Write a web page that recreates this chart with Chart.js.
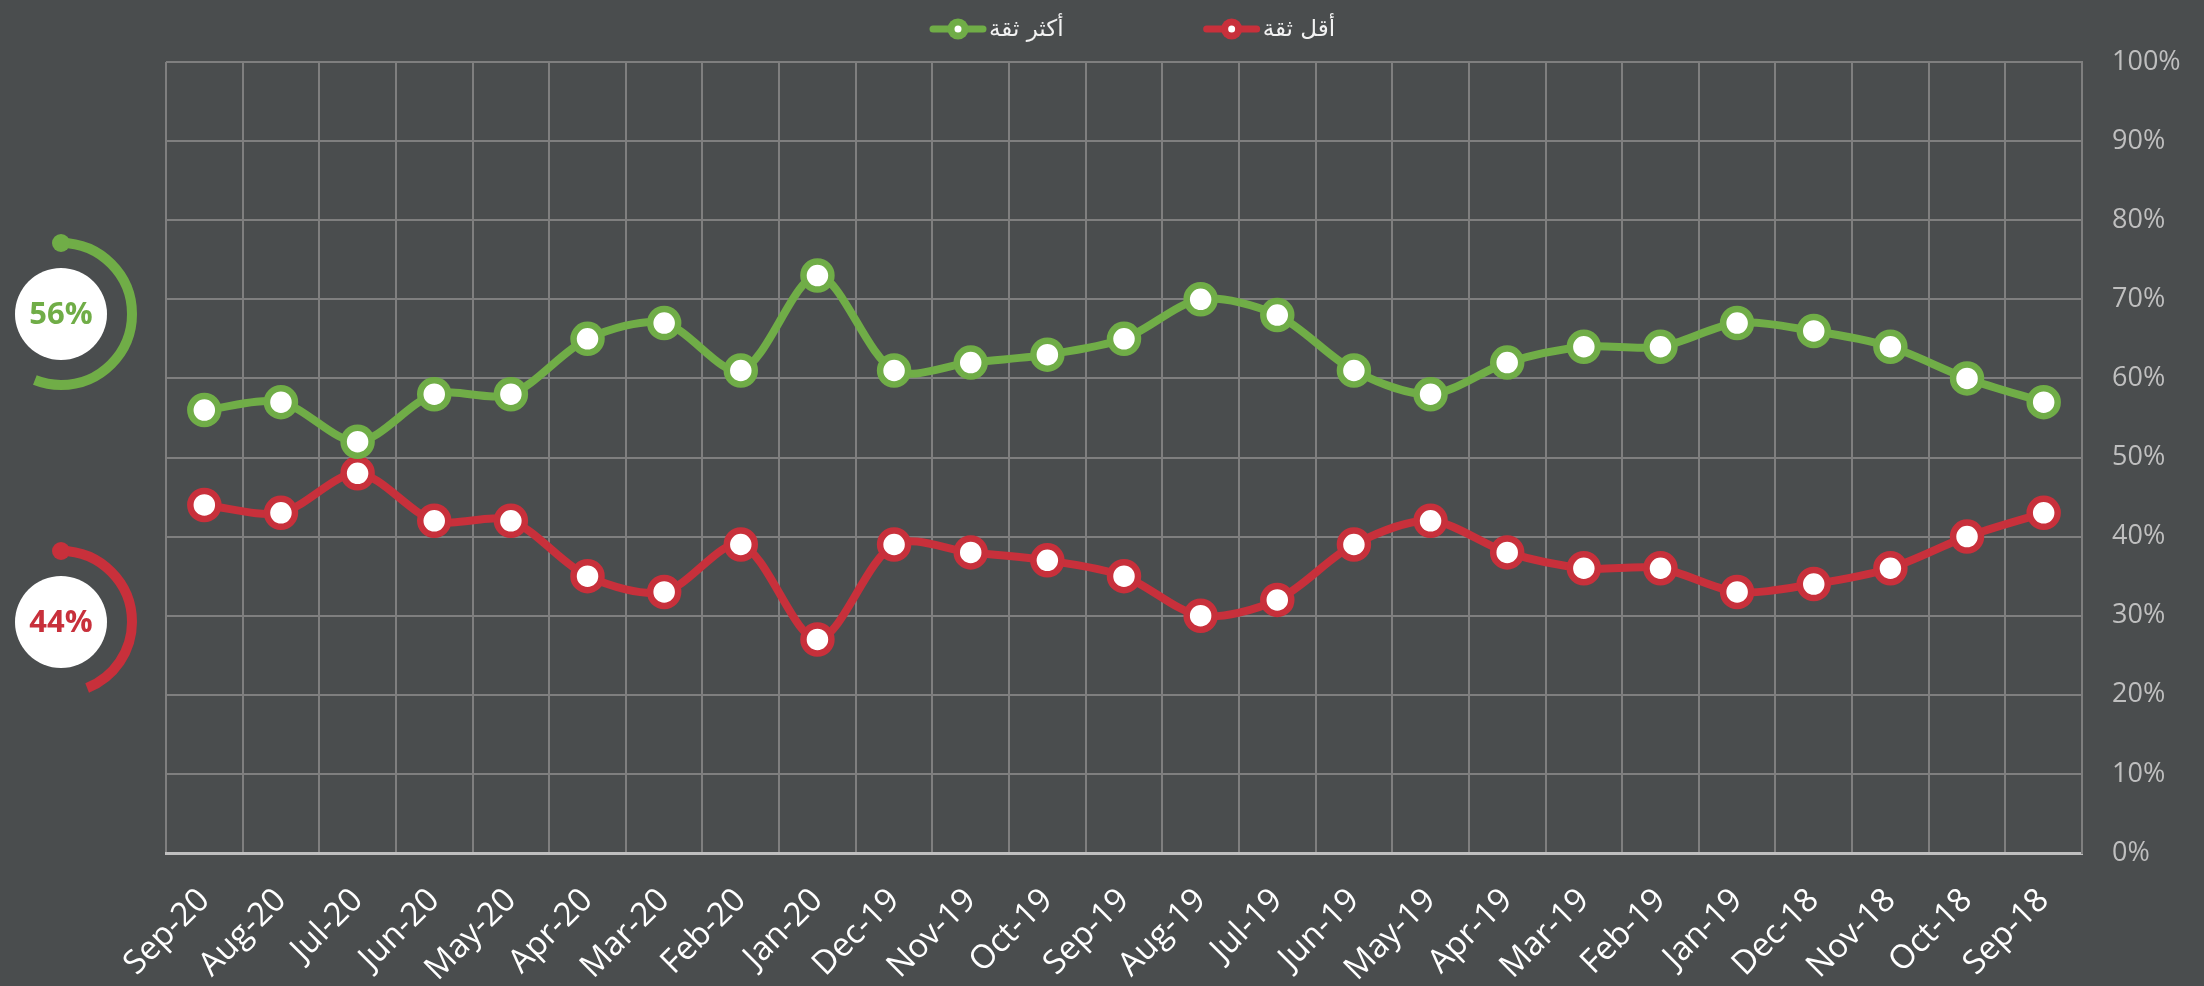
<!DOCTYPE html>
<html><head><meta charset="utf-8">
<script src="https://cdn.jsdelivr.net/npm/chart.js@4.4.1/dist/chart.umd.min.js"></script>
<style>html,body{margin:0;padding:0;background:#4a4d4e;}#wrap{width:2204px;height:986px;position:relative}</style>
</head><body><div id="wrap"><canvas id="c"></canvas></div>
<script>
const categories = ['Sep-20','Aug-20','Jul-20','Jun-20','May-20','Apr-20','Mar-20','Feb-20','Jan-20','Dec-19','Nov-19','Oct-19','Sep-19','Aug-19','Jul-19','Jun-19','May-19','Apr-19','Mar-19','Feb-19','Jan-19','Dec-18','Nov-18','Oct-18','Sep-18'];
const moreTrust = [56,57,52,58,58,65,67,61,73,61,62,63,65,70,68,61,58,62,64,64,67,66,64,60,57];
const lessTrust = [44,43,48,42,42,35,33,39,27,39,38,37,35,30,32,39,42,38,36,36,33,34,36,40,43];
const seriesNames = ['أكثر ثقة','أقل ثقة'];
const seriesColors = ['#70ad47','#c8303b'];
const yTicks = {min:0, max:100, step:10, suffix:'%'};

const FONT = "'Open Sans', 'DejaVu Sans', sans-serif";

const legendPlugin = {
  id:'customLegend',
  afterDraw(chart){
    const ctx = chart.ctx;
    const ds = chart.data.datasets;
    ctx.save();
    ctx.font = "23px 'DejaVu Sans', sans-serif";
    const lineW = 56, gapText = 3, gapItems = 140;
    const widths = ds.map(d => lineW + gapText + ctx.measureText(d.label).width);
    let x = (chart.chartArea.left + chart.chartArea.right)/2 - 194;
    const y = 29;
    ds.forEach((d,i)=>{
      ctx.strokeStyle = d.borderColor; ctx.lineWidth = 7; ctx.lineCap='round';
      ctx.beginPath(); ctx.moveTo(x+3,y); ctx.lineTo(x+lineW-3,y); ctx.stroke();
      ctx.fillStyle = d.borderColor;
      ctx.beginPath(); ctx.arc(x+lineW/2,y,10.5,0,Math.PI*2); ctx.fill();
      ctx.fillStyle = '#ffffff';
      ctx.beginPath(); ctx.arc(x+lineW/2,y,3.5,0,Math.PI*2); ctx.fill();
      ctx.fillStyle = '#f2f2f2'; ctx.textAlign='left'; ctx.textBaseline='middle';
      ctx.fillText(d.label, x+lineW+gapText, y+1);
      x += widths[i] + gapItems;
    });
    ctx.restore();
  }
};

const gaugePlugin = {
  id:'gauges',
  afterDraw(chart){
    const ctx = chart.ctx;
    const centers = [[61,314],[61,622]];
    chart.data.datasets.forEach((d,i)=>{
      const v = d.data[0];
      const [cx,cy] = centers[i];
      ctx.save();
      ctx.fillStyle = '#ffffff';
      ctx.beginPath(); ctx.arc(cx,cy,46,0,Math.PI*2); ctx.fill();
      const start = -Math.PI/2, end = start + Math.PI*2*v/100;
      ctx.strokeStyle = d.borderColor; ctx.lineWidth = 10; ctx.lineCap='butt';
      ctx.beginPath(); ctx.arc(cx,cy,71,start,end); ctx.stroke();
      ctx.fillStyle = d.borderColor;
      ctx.beginPath(); ctx.arc(cx,cy-71,9,0,Math.PI*2); ctx.fill();
      ctx.font = "bold 31px 'Open Sans', sans-serif";
      ctx.textAlign='center'; ctx.textBaseline='middle';
      ctx.fillText(v+'%', cx, cy+1);
      ctx.restore();
    });
  }
};

const mk = (label, data, color) => ({
  label, data, borderColor: color, backgroundColor: color,
  borderWidth: 8, tension: 0.3,
  pointRadius: 14, pointHoverRadius: 14, pointBorderWidth: 6.5, pointHoverBorderWidth: 6.5,
  pointBackgroundColor: '#ffffff', pointBorderColor: color, clip: false
});

new Chart(document.getElementById('c'), {
  type: 'line',
  data: {
    labels: categories,
    datasets: [mk(seriesNames[0], moreTrust, seriesColors[0]), mk(seriesNames[1], lessTrust, seriesColors[1])]
  },
  options: {
    responsive: true, maintainAspectRatio: false, animation: false,
    layout: { padding: { left: 166, top: 62, right: 0, bottom: 0 } },
    plugins: { legend: { display: false }, tooltip: { enabled: false } },
    scales: {
      x: {
        offset: true,
        grid: { offset: true, color: '#7f7f7f', lineWidth: 2, drawTicks: false },
        border: { color: '#bfbfbf', width: 3 },
        ticks: { color: '#ffffff', font: { family: FONT, size: 33 }, minRotation: 45, maxRotation: 45, padding: 28, autoSkip: false },
        afterFit: s => { s.height = 133; }
      },
      y: {
        position: 'right', min: yTicks.min, max: yTicks.max,
        grid: { color: c => c.tick && c.tick.value === 0 ? 'rgba(0,0,0,0)' : '#7f7f7f', lineWidth: 2, drawTicks: false },
        border: { color: '#7f7f7f', width: 2 },
        ticks: { stepSize: yTicks.step, callback: v => v + yTicks.suffix, color: '#bfbfbf', font: { family: FONT, size: 27 }, padding: 30 },
        afterFit: s => { s.width = 122; }
      }
    }
  },
  plugins: [legendPlugin, gaugePlugin]
});
</script></body></html>
